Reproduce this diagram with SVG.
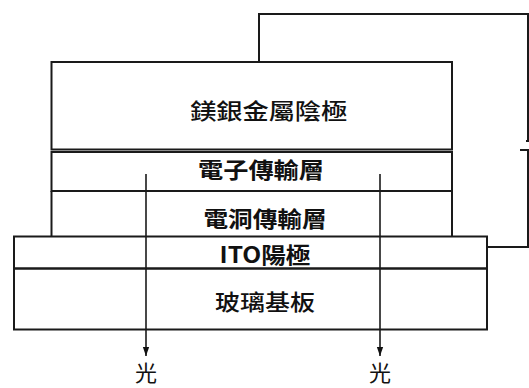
<svg xmlns="http://www.w3.org/2000/svg" width="529" height="388" viewBox="0 0 529 388">
<style>
.ln{fill:none;stroke:#1a1a1a;stroke-width:2}
.t{font-family:"Noto Sans CJK TC","Noto Sans CJK SC",sans-serif;font-size:22px;fill:#111;text-anchor:middle;dominant-baseline:central}
.b{font-weight:bold}
.m{font-weight:500}
</style>
<defs>
<marker id="ah" viewBox="0 0 10 10" refX="10" refY="5" markerWidth="9" markerHeight="9" markerUnits="userSpaceOnUse" orient="auto">
<path d="M0,1.5 L10,5 L0,8.5 Z" fill="#111"/>
</marker>
</defs>
<rect width="529" height="388" fill="#fff"/>
<g id="connectors">
<polyline class="ln" points="259,62 259,14 528,14 528,141"/>
<line class="ln" x1="526" y1="141" x2="529" y2="141"/>
<line class="ln" x1="520" y1="150" x2="529" y2="150"/>
<polyline class="ln" points="528,150 528,247 487,247"/>
<line class="ln" x1="146" y1="174" x2="146" y2="356" style="stroke-width:1.6" marker-end="url(#ah)"/>
<line class="ln" x1="380" y1="174" x2="380" y2="356" style="stroke-width:1.6" marker-end="url(#ah)"/>
</g>
<g id="cathode">
<rect class="ln" x="51.5" y="62" width="400.5" height="87.5"/>
<text class="t m" x="268.7" y="109" textLength="157" lengthAdjust="spacingAndGlyphs">鎂銀金屬陰極</text>
</g>
<g id="etl">
<rect class="ln" x="51.5" y="152" width="400.5" height="39"/>
<text class="t b" x="261" y="168" textLength="126" lengthAdjust="spacingAndGlyphs">電子傳輸層</text>
</g>
<g id="htl">
<line class="ln" x1="51.5" y1="191" x2="51.5" y2="236.5"/>
<line class="ln" x1="452" y1="191" x2="452" y2="236.5"/>
<text class="t b" x="265" y="217" textLength="123" lengthAdjust="spacingAndGlyphs">電洞傳輸層</text>
</g>
<g id="ito">
<rect class="ln" x="14" y="236.5" width="473" height="32"/>
<text class="t b" x="265" y="253" textLength="91" lengthAdjust="spacingAndGlyphs">ITO陽極</text>
</g>
<g id="glass">
<rect class="ln" x="14" y="268.5" width="473" height="61"/>
<text class="t m" x="265" y="300" textLength="100" lengthAdjust="spacingAndGlyphs">玻璃基板</text>
</g>
<g id="light-labels">
<text class="t" x="146" y="371">光</text>
<text class="t" x="380" y="371">光</text>
</g>
</svg>
